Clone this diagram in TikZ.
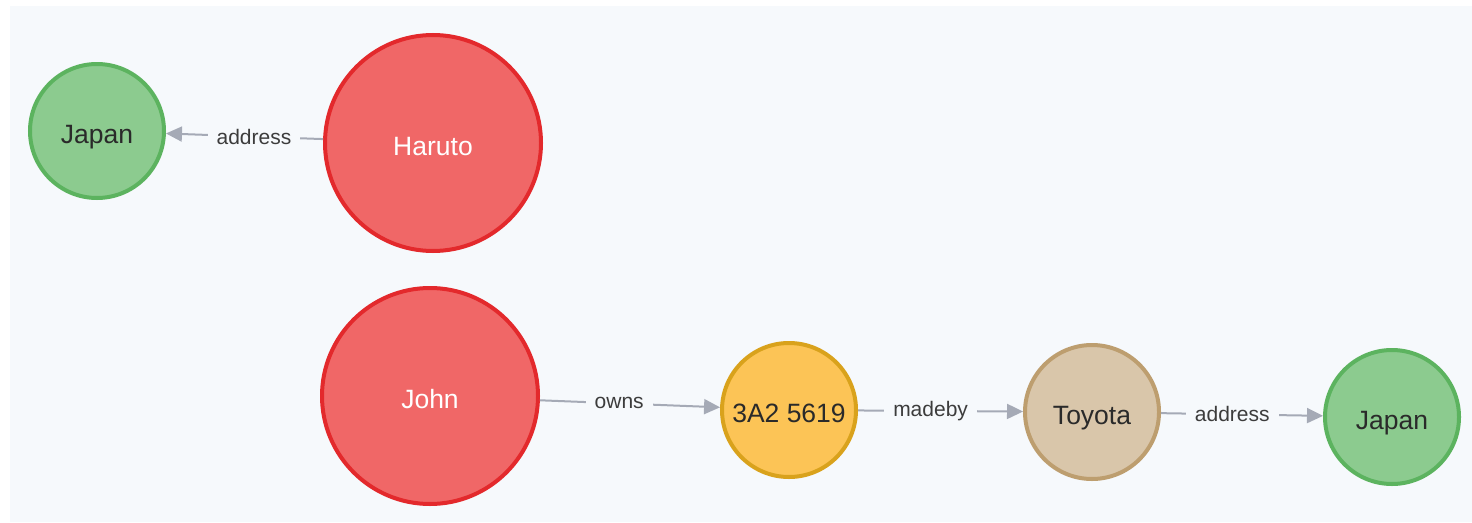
\documentclass[tikz,border=0pt]{standalone}
\usepackage{fontspec}
\setmainfont{Liberation Sans}
\usetikzlibrary{arrows.meta}

\definecolor{panel}{HTML}{F6F9FC}
\definecolor{redfill}{HTML}{F06767}
\definecolor{redline}{HTML}{E3292C}
\definecolor{greenfill}{HTML}{8CCB8F}
\definecolor{greenline}{HTML}{5CB35F}
\definecolor{yellowfill}{HTML}{FCC456}
\definecolor{yellowline}{HTML}{D9A21C}
\definecolor{tanfill}{HTML}{D9C6AA}
\definecolor{tanline}{HTML}{BD9E6F}
\definecolor{edgecol}{HTML}{A5AAB6}
\definecolor{nodetext}{HTML}{2A2A2A}
\definecolor{labeltext}{HTML}{3C3C3C}

\begin{document}
\begin{tikzpicture}[x=1pt,y=-1pt,
  entity/.style={circle, line width=4pt, inner sep=0pt,
    text height=25pt, text depth=0pt,
    font=\fontsize{26.5}{30}\selectfont, text=nodetext},
  smallnode/.style={minimum size=134pt},
  bignode/.style={minimum size=216pt},
  person/.style={entity, bignode, fill=redfill, draw=redline, text=white},
  country/.style={entity, smallnode, fill=greenfill, draw=greenline},
  vehicle/.style={entity, smallnode, fill=yellowfill, draw=yellowline},
  maker/.style={entity, smallnode, fill=tanfill, draw=tanline},
  rel/.style={draw=edgecol, line width=2pt, -{Triangle[length=16pt,width=15pt]}},
  rellabel/.style={pos=0.44, fill=panel, text=labeltext,
    font=\fontsize{21}{24}\selectfont, inner xsep=9pt, inner ysep=2pt}
]
  % canvas and panel
  \useasboundingbox (0,0) rectangle (1472,522);
  \fill[white] (0,0) rectangle (1472,522);
  \fill[panel] (10,6) rectangle (1472,522);

  % nodes
  \node[country] (japanA) at (97,131) {Japan};
  \node[person]  (haruto) at (433,143) {Haruto};
  \node[person]  (john)   at (430,396) {John};
  \node[vehicle] (car)    at (789,410) {3A2 5619};
  \node[maker]   (toyota) at (1092,412) {Toyota};
  \node[country] (japanB) at (1392,417) {Japan};

  % relationships
  \draw[rel] (haruto) -- node[rellabel] {address} (japanA);
  \draw[rel] (john)   -- node[rellabel] {owns}    (car);
  \draw[rel] (car)    -- node[rellabel] {madeby}  (toyota);
  \draw[rel] (toyota) -- node[rellabel] {address} (japanB);
\end{tikzpicture}
\end{document}
